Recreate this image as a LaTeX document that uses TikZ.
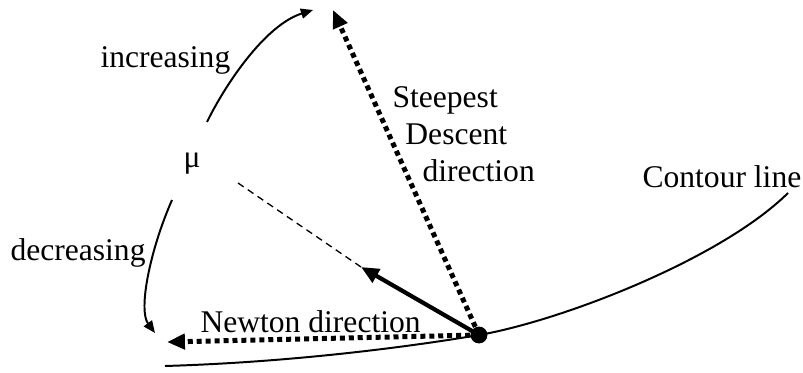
\documentclass[tikz,border=0pt]{standalone}
\usepackage{fontspec}
\setmainfont{Liberation Serif}
\usetikzlibrary{arrows.meta}

\begin{document}
\begin{tikzpicture}[
    x=0.38pt, y=-0.38pt,
    lbl/.style={font=\fontsize{12}{14}\selectfont, inner sep=0pt, anchor=base west},
    curve/.style={line width=0.75pt},
    turn/.style={line width=0.75pt, -{Triangle[length=4.6pt, width=3.8pt]}},
    dots/.style={line width=1.9pt, dash pattern=on 1.9pt off 1.5pt,
                 -{Triangle[length=6.8pt, width=5.7pt]}},
    heavy/.style={line width=1.6pt, -{Triangle[length=6.8pt, width=5.7pt]}},
    guide/.style={line width=0.5pt, dash pattern=on 2.6pt off 1.9pt},
    spot/.style={circle, fill, inner sep=0pt, minimum size=6.4pt}
]
\useasboundingbox (0,0) rectangle (803,373);

% Contour line
\node[spot] (pt) at (479,335) {};
\coordinate (cl-a) at (165,366);
\coordinate (cl-b) at (788,193);
\draw[curve] (cl-a) .. controls (300,362) and (420,345) .. (pt.center)
             .. controls (560,321) and (720,260) .. (cl-b);

% Directions
\coordinate (sd)     at (333,10);
\coordinate (nd)     at (167,342);
\coordinate (lm)     at (361,267);
\coordinate (lm-far) at (238,183);
\draw[dots]  (pt.center) -- (sd);
\draw[dots]  (pt.center) -- (nd);
\draw[heavy] (pt.center) -- (lm);
\draw[guide] (lm) -- (lm-far);

% mu and its arcs
\node[lbl] (mu) at (183,168) {μ};
\coordinate (up-a)   at (207,122);
\coordinate (up-b)   at (313,10);
\coordinate (down-a) at (172,200);
\coordinate (down-b) at (155,333);
\draw[turn] (up-a) .. controls (225,85) and (265,25) .. (up-b);
\draw[turn] (down-a) .. controls (150,250) and (138,310) .. (down-b);

% Labels
\node[lbl] (inc)     at (100,68)  {increasing};
\node[lbl] (dec)     at (10,260)  {decreasing};
\node[lbl] (newton)  at (200,332) {Newton direction};
\node[lbl, anchor=north west, align=left] (steep) at (392,86)
     {Steepest\\\hspace*{4.9pt}Descent\\\hspace*{11.4pt}direction};
\node[lbl] (contour) at (642,188) {Contour line};

\end{tikzpicture}
\end{document}
